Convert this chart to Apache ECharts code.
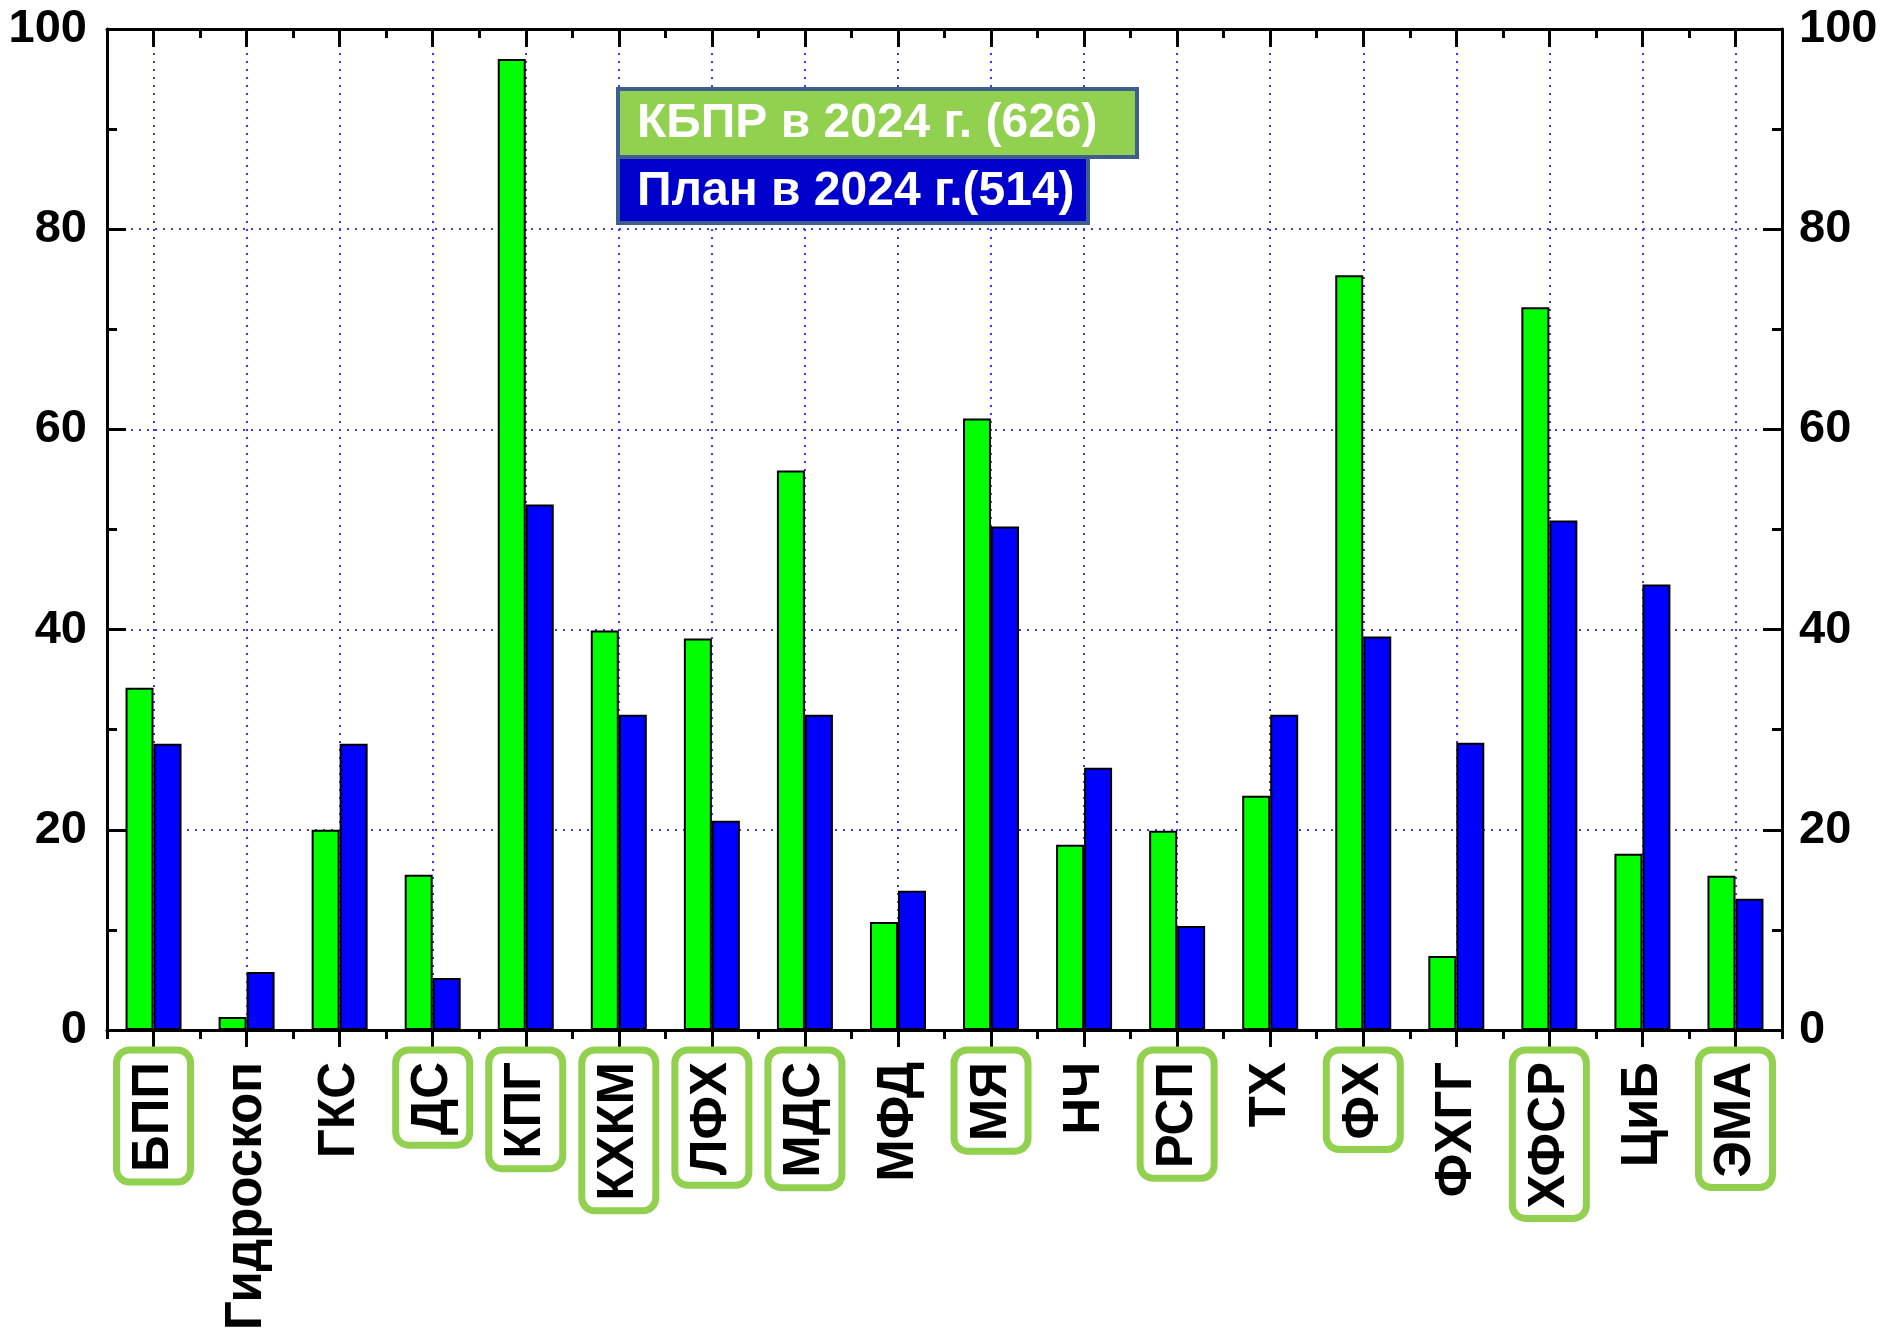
<!DOCTYPE html>
<html><head><meta charset="utf-8">
<script src="https://cdn.jsdelivr.net/npm/echarts@6/dist/echarts.min.js"></script>
<style>html,body{margin:0;padding:0;background:#fff}#c{width:1884px;height:1337px}</style>
</head><body><div id="c"></div>
<script>
const categories = ['БПП','Гидроскоп','ГКС','ДС','КПГ','КХКМ','ЛФХ','МДС','МФД','МЯ','НЧ','РСП','ТХ','ФХ','ФХГГ','ХФСР','ЦиБ','ЭМА'];
const kbprValues = [34.2, 1.3, 20.0, 15.5, 97.0, 39.9, 39.1, 55.9, 10.8, 61.1, 18.5, 19.9, 23.4, 75.4, 7.4, 72.2, 17.6, 15.4];
const planValues = [28.6, 5.8, 28.6, 5.2, 52.5, 31.5, 20.9, 31.5, 13.9, 50.3, 26.2, 10.4, 31.5, 39.3, 28.7, 50.9, 44.5, 13.1];
const seriesNames = ['КБПР в 2024 г. (626)', 'План в 2024 г.(514)'];
const highlighted = ['БПП','ДС','КПГ','КХКМ','ЛФХ','МДС','МЯ','РСП','ФХ','ХФСР','ЭМА'];
const yMin = 0, yMax = 100, yStep = 20;

const FONT = '"Liberation Sans", Arial, sans-serif';
const chart = echarts.init(document.getElementById('c'), null, {renderer: 'canvas'});
const labelBase = {fontSize: 51, fontWeight: 'bold', fontFamily: FONT, color: '#000', lineHeight: 50, padding: [12, 12, 11, 10], borderRadius: 13, borderWidth: 7};
const axisLineStyle = {color: '#000', width: 3};
const gridDots = {color: '#3a3aff', width: 2, type: [2, 6]};

const option = {
  animation: false,
  backgroundColor: '#fff',
  grid: {left: 107, right: 102, top: 29, bottom: 307, containLabel: false, outerBoundsMode: 'none'},
  xAxis: [
    {type: 'category', data: categories, position: 'bottom',
     axisLine: {show: true, onZero: false, lineStyle: axisLineStyle},
     axisTick: {show: true, alignWithLabel: true, inside: false, length: 17, lineStyle: axisLineStyle},
     axisLabel: {rotate: 90, interval: 0, margin: 20,
       formatter: v => highlighted.includes(v) ? '{hl|' + v + '}' : '{n|' + v + '}',
       rich: {hl: Object.assign({}, labelBase, {borderColor: '#92d050'}),
              n: Object.assign({}, labelBase, {borderColor: 'rgba(0,0,0,0)'})}},
     splitLine: {show: true, alignWithLabel: true, lineStyle: gridDots}},
    {type: 'category', data: categories, position: 'bottom',
     axisLine: {show: false, onZero: false}, axisLabel: {show: false}, splitLine: {show: false},
     axisTick: {show: true, inside: false, length: 9, lineStyle: axisLineStyle}},
    {type: 'category', data: categories, position: 'top',
     axisLine: {show: true, onZero: false, lineStyle: axisLineStyle}, axisLabel: {show: false}, splitLine: {show: false},
     axisTick: {show: true, alignWithLabel: true, inside: true, length: 18, lineStyle: axisLineStyle}},
    {type: 'category', data: categories, position: 'top',
     axisLine: {show: false, onZero: false}, axisLabel: {show: false}, splitLine: {show: false},
     axisTick: {show: true, inside: true, length: 9, lineStyle: axisLineStyle}}
  ],
  yAxis: [
    {type: 'value', position: 'left', min: yMin, max: yMax, interval: yStep,
     axisLine: {show: true, lineStyle: axisLineStyle},
     axisTick: {show: true, inside: true, length: 19, lineStyle: axisLineStyle},
     minorTick: {show: true, splitNumber: 2, length: 10, lineStyle: axisLineStyle},
     axisLabel: {margin: 20, fontSize: 47, fontWeight: 'bold', fontFamily: FONT, color: '#000'},
     splitLine: {show: true, lineStyle: gridDots}},
    {type: 'value', position: 'right', min: yMin, max: yMax, interval: yStep,
     axisLine: {show: true, lineStyle: axisLineStyle},
     axisTick: {show: true, inside: true, length: 19, lineStyle: axisLineStyle},
     minorTick: {show: true, splitNumber: 2, length: 10, lineStyle: axisLineStyle},
     axisLabel: {margin: 17, fontSize: 47, fontWeight: 'bold', fontFamily: FONT, color: '#000'},
     splitLine: {show: false}}
  ],
  series: [
    {name: seriesNames[0], type: 'bar', xAxisIndex: 0, yAxisIndex: 0, data: kbprValues,
     barWidth: 28, barGap: '0%',
     itemStyle: {color: '#00ff00', borderColor: '#000', borderWidth: 2}},
    {name: seriesNames[1], type: 'bar', xAxisIndex: 0, yAxisIndex: 0, data: planValues,
     barWidth: 28, barGap: '0%',
     itemStyle: {color: '#0000ff', borderColor: '#000', borderWidth: 2}}
  ],
  graphic: [
    {type: 'rect', z: 100, shape: {x: 618, y: 157, width: 470, height: 66}, style: {fill: '#0000cc', stroke: '#3d5e8e', lineWidth: 4}},
    {type: 'rect', z: 101, shape: {x: 618, y: 89, width: 519, height: 68}, style: {fill: '#92d050', stroke: '#3d5e8e', lineWidth: 4}},
    {type: 'text', z: 102, x: 637, y: 124, style: {text: seriesNames[0], fill: '#fff', font: 'bold 48px ' + FONT, textVerticalAlign: 'middle', verticalAlign: 'middle'}},
    {type: 'text', z: 102, x: 637, y: 192, style: {text: seriesNames[1], fill: '#fff', font: 'bold 48px ' + FONT, textVerticalAlign: 'middle', verticalAlign: 'middle'}}
  ]
};
chart.setOption(option);
</script></body></html>
